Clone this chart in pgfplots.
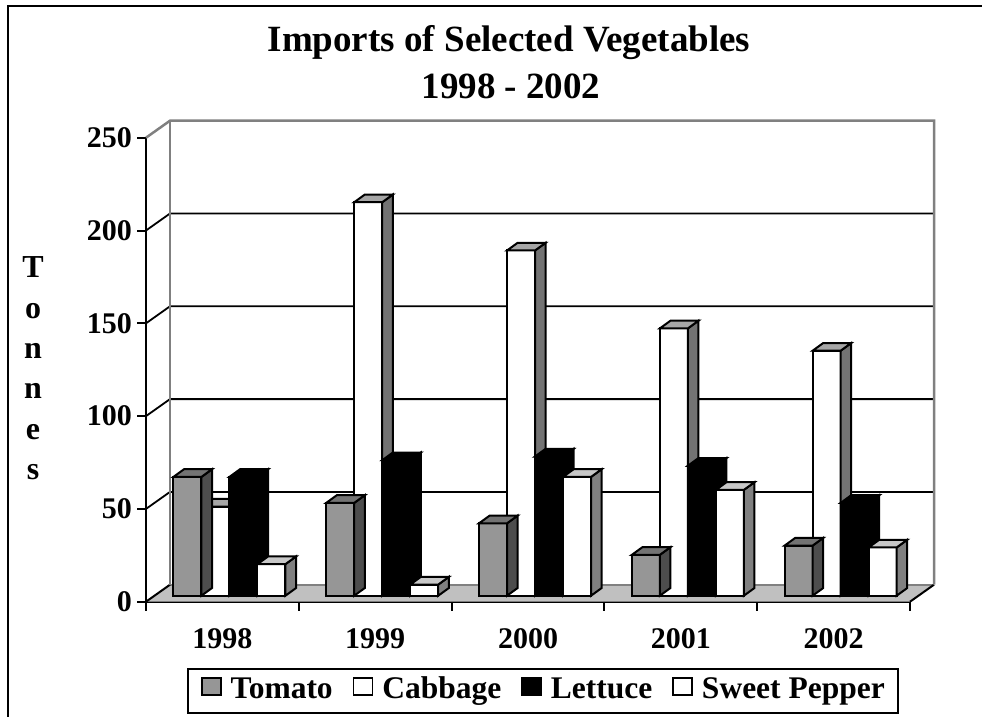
\documentclass[border=0pt]{standalone}
\usepackage{pgfplots}
\pgfplotsset{compat=1.18}
\usepackage{pgfplotstable}
\usepackage{fontspec}
\setmainfont{Liberation Serif}

\definecolor{tomF}{HTML}{969696}
\definecolor{tomT}{HTML}{737373}
\definecolor{tomS}{HTML}{4D4D4D}
\definecolor{cabT}{HTML}{A6A6A6}
\definecolor{cabS}{HTML}{737373}
\definecolor{pepT}{HTML}{C8C8C8}
\definecolor{pepS}{HTML}{808080}
\definecolor{floorC}{HTML}{C0C0C0}
\definecolor{wallE}{HTML}{808080}

% tonnes per year, 1998..2002 at x = 0..4
\pgfplotstableread{
x y
0 64
1 50
2 39
3 22
4 27
}\tomato
\pgfplotstableread{
x y
0 48
1 212
2 186
3 144
4 132
}\cabbage
\pgfplotstableread{
x y
0 64
1 73
2 75
3 70
4 50
}\lettuce
\pgfplotstableread{
x y
0 17
1 6
2 64
3 57
4 26
}\pepper

% 3d column drawn as a mark at the front bottom-left corner
% #1 name, #2 front, #3 top, #4 side
\newcommand\declcube[4]{%
  \pgfdeclareplotmark{#1}{%
    \pgfmathsetmacro\h{\barval*1.856}%
    \pgfsetlinewidth{2pt}\pgfsetstrokecolor{black}%
    \pgfpathrectangle{\pgfpointorigin}{\pgfpoint{28pt}{\h pt}}%
    \pgfsetfillcolor{#2}\pgfusepath{fill,stroke}%
    \pgfpathmoveto{\pgfpoint{28pt}{0pt}}%
    \pgfpathlineto{\pgfpoint{38.6pt}{7.7pt}}%
    \pgfpathlineto{\pgfpoint{38.6pt}{\h pt+7.7pt}}%
    \pgfpathlineto{\pgfpoint{28pt}{\h pt}}%
    \pgfpathclose
    \pgfsetfillcolor{#4}\pgfusepath{fill,stroke}%
    \pgfpathmoveto{\pgfpoint{0pt}{\h pt}}%
    \pgfpathlineto{\pgfpoint{28pt}{\h pt}}%
    \pgfpathlineto{\pgfpoint{38.6pt}{\h pt+7.7pt}}%
    \pgfpathlineto{\pgfpoint{10.6pt}{\h pt+7.7pt}}%
    \pgfpathclose
    \pgfsetfillcolor{#3}\pgfusepath{fill,stroke}%
  }}
\declcube{cubeTom}{tomF}{tomT}{tomS}
\declcube{cubeCab}{white}{cabT}{cabS}
\declcube{cubeLet}{black}{black}{black}
\declcube{cubePep}{white}{pepT}{pepS}

\pgfplotsset{cube/.style={forget plot, only marks, scatter, mark=#1,
  scatter/@pre marker code/.code={}, scatter/@post marker code/.code={},
  visualization depends on={\thisrow{y} \as \barval}}}

\begin{document}
\begin{tikzpicture}
\useasboundingbox (0pt,0pt) rectangle (982pt,-717pt);
\draw[line width=2.5pt] (8pt,-717pt) -- (8pt,-6pt) -- (982pt,-6pt);
\node[anchor=base, inner sep=0pt, font=\bfseries\fontsize{37}{44}\selectfont] at (509pt,-51.7pt) {Imports of Selected Vegetables};
\node[anchor=base, inner sep=0pt, font=\bfseries\fontsize{37}{44}\selectfont] at (511pt,-98.3pt) {1998 - 2002};
\node[anchor=north, align=center, inner sep=0pt, font=\bfseries\fontsize{32}{40.3}\selectfont] at (33pt,-256.7pt) {T\\o\\n\\n\\e\\s};

\begin{axis}[
  at={(146pt,-601.7pt)}, anchor=south west,
  scale only axis, width=764pt, height=464pt,
  xmin=-0.5, xmax=4.5, ymin=0, ymax=250, clip=false,
  axis x line*=bottom, axis y line*=left,
  axis line style={line width=2.2pt, black},
  xtick={0,1,2,3,4}, xticklabels={1998,1999,2000,2001,2002},
  minor xtick={-0.5,0.5,1.5,2.5,3.5,4.5},
  ytick={0,50,100,150,200,250}, yticklabels={0,50,100,150,200,250},
  minor ytick={0,50,100,150,200,250},
  tick align=outside, major tick length=0pt, minor tick length=9pt,
  tick style={line width=2pt, black},
  tick label style={font=\bfseries\fontsize{30}{36}\selectfont, inner sep=0pt},
  xticklabel style={anchor=base, yshift=-46.3pt},
  yticklabel style={anchor=east, xshift=-14pt},
  legend columns=4, legend cell align=left,
  legend style={at={(0.0537,-0.1429)}, anchor=north west, draw=black, line width=2pt,
    inner xsep=13pt, inner ysep=8pt,
    font=\bfseries\fontsize{31.5}{36}\selectfont,
    nodes={inner sep=0pt, text height=21pt, text depth=6.5pt},
    /tikz/every odd column/.append style={column sep=9pt},
    /tikz/every even column/.append style={column sep=20pt}},
  legend image code/.code={\draw[#1, line width=1.6pt] (0pt,-4pt) rectangle (19pt,13pt);},
]
\addlegendimage{fill=tomF, draw=black}\addlegendentry{Tomato}
\addlegendimage{fill=white, draw=black}\addlegendentry{Cabbage}
\addlegendimage{fill=black, draw=black}\addlegendentry{Lettuce}
\addlegendimage{fill=white, draw=black}\addlegendentry{Sweet Pepper}

% floor and walls
\fill[floorC] (-0.5,0) -- (4.5,0) -- (4.657,9.16) -- (-0.343,9.16) -- cycle;
\draw[wallE, line width=2pt] (-0.343,9.16) -- (4.657,9.16);
\draw[black, line width=2pt] (-0.5,0) -- (-0.343,9.16);
\draw[black, line width=2pt] (4.5,0) -- (4.657,9.16);
\pgfplotsinvokeforeach{50,100,150,200}{
  \draw[black, line width=1.8pt] (-0.5,#1) -- (-0.343,#1+9.16) -- (4.657,#1+9.16);
}
\draw[wallE, line width=2.5pt] (-0.5,250) -- (-0.343,259.16) -- (4.657,259.16) -- (4.657,9.16);
\draw[wallE, line width=2.5pt] (-0.343,9.16) -- (-0.343,259.16);

% columns
\addplot[cube=cubeCab] table[x expr=\thisrow{x}-0.1373, y expr=3.23] {\cabbage};
\addplot[cube=cubeTom] table[x expr=\thisrow{x}-0.3206, y expr=3.23] {\tomato};
\addplot[cube=cubeLet] table[x expr=\thisrow{x}+0.046, y expr=3.23] {\lettuce};
\addplot[cube=cubePep] table[x expr=\thisrow{x}+0.2293, y expr=3.23] {\pepper};
\end{axis}
\end{tikzpicture}
\end{document}
